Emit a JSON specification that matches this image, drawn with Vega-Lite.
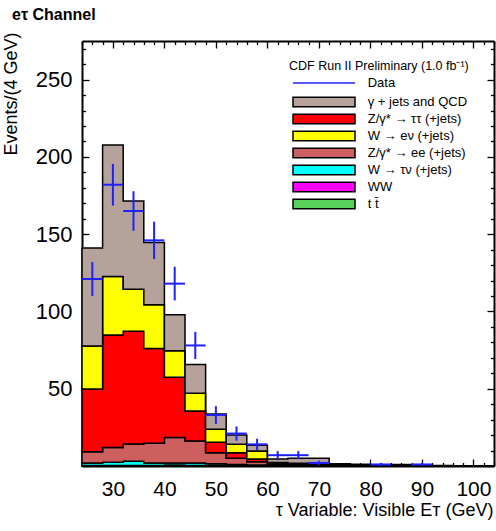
{
  "$schema": "https://vega.github.io/schema/vega-lite/v6.json",
  "width": 412,
  "height": 425,
  "autosize": "none",
  "padding": {"left": 82, "top": 41, "right": 2, "bottom": 65},
  "background": "white",
  "config": {
    "view": {"stroke": null},
    "font": "Liberation Sans",
    "axis": {"labelColor": "black", "titleColor": "black", "tickColor": "black", "domainColor": "black", "domainWidth": 2, "tickWidth": 1.3, "grid": false, "zindex": 1, "labelOverlap": false, "labelFlush": false, "labelFont": "Liberation Sans", "titleFont": "Liberation Sans"},
    "legend": {"labelFont": "Liberation Sans", "titleFont": "Liberation Sans", "labelColor": "black", "titleColor": "black"}
  },
  "title": {"text": "eτ Channel", "anchor": "start", "frame": "group", "dx": -70, "baseline": "alphabetic", "offset": -4, "fontSize": 16, "fontWeight": "bold", "font": "Liberation Sans", "color": "black"},
  "datasets": {
    "mc": [
      {"x": 24, "tt": 0.2, "ww": 0.1, "taunu": 1.7, "ee": 7.3, "tautau": 40.6, "enu": 27.8, "qcd": 63.3},
      {"x": 28, "tt": 0.2, "ww": 0.1, "taunu": 2.2, "ee": 9.4, "tautau": 72.9, "enu": 37.8, "qcd": 85.1},
      {"x": 32, "tt": 0.3, "ww": 0.1, "taunu": 2.6, "ee": 11.2, "tautau": 73.0, "enu": 27.2, "qcd": 57.0},
      {"x": 36, "tt": 0.3, "ww": 0.1, "taunu": 1.6, "ee": 12.7, "tautau": 61.3, "enu": 28.3, "qcd": 40.3},
      {"x": 40, "tt": 0.4, "ww": 0.2, "taunu": 1.4, "ee": 16.4, "tautau": 39.0, "enu": 17.1, "qcd": 23.3},
      {"x": 44, "tt": 0.3, "ww": 0.1, "taunu": 1.6, "ee": 14.2, "tautau": 19.4, "enu": 11.5, "qcd": 18.5},
      {"x": 48, "tt": 0.3, "ww": 0.1, "taunu": 1.1, "ee": 7.1, "tautau": 6.7, "enu": 8.4, "qcd": 10.0},
      {"x": 52, "tt": 0.2, "ww": 0.1, "taunu": 0.7, "ee": 4.0, "tautau": 3.6, "enu": 5.4, "qcd": 6.1},
      {"x": 56, "tt": 0.2, "ww": 0.1, "taunu": 0.4, "ee": 2.1, "tautau": 1.7, "enu": 5.2, "qcd": 3.7},
      {"x": 60, "tt": 0.3, "ww": 0.1, "taunu": 0.2, "ee": 0.8, "tautau": 0.4, "enu": 0.5, "qcd": 2.2},
      {"x": 64, "tt": 0.2, "ww": 0.1, "taunu": 0.2, "ee": 0.6, "tautau": 0.3, "enu": 0.4, "qcd": 3.2},
      {"x": 68, "tt": 0.2, "ww": 0.1, "taunu": 0.1, "ee": 0.4, "tautau": 0.2, "enu": 0.3, "qcd": 3.7},
      {"x": 72, "tt": 0.2, "ww": 0, "taunu": 0.1, "ee": 0.2, "tautau": 0.1, "enu": 0.2, "qcd": 0.7},
      {"x": 76, "tt": 0.1, "ww": 0, "taunu": 0, "ee": 0.2, "tautau": 0.1, "enu": 0.1, "qcd": 0.7},
      {"x": 80, "tt": 0.1, "ww": 0, "taunu": 0, "ee": 0.1, "tautau": 0, "enu": 0.1, "qcd": 0.5},
      {"x": 84, "tt": 0.1, "ww": 0, "taunu": 0, "ee": 0.1, "tautau": 0, "enu": 0.1, "qcd": 0.7},
      {"x": 88, "tt": 0, "ww": 0, "taunu": 0, "ee": 0.1, "tautau": 0, "enu": 0, "qcd": 0.3},
      {"x": 92, "tt": 0, "ww": 0, "taunu": 0, "ee": 0, "tautau": 0, "enu": 0, "qcd": 0.3},
      {"x": 96, "tt": 0, "ww": 0, "taunu": 0, "ee": 0, "tautau": 0, "enu": 0, "qcd": 0.2},
      {"x": 100, "tt": 0, "ww": 0, "taunu": 0, "ee": 0, "tautau": 0, "enu": 0, "qcd": 0.2},
      {"x": 104, "tt": 0, "ww": 0, "taunu": 0, "ee": 0, "tautau": 0, "enu": 0, "qcd": 0.2}
    ],
    "procs": [
      {"key": "tt", "process": "t t̄", "rank": 1},
      {"key": "ww", "process": "WW", "rank": 2},
      {"key": "taunu", "process": "W → τν (+jets)", "rank": 3},
      {"key": "ee", "process": "Z/γ* → ee (+jets)", "rank": 4},
      {"key": "tautau", "process": "Z/γ* → ττ (+jets)", "rank": 5},
      {"key": "enu", "process": "W → eν (+jets)", "rank": 6},
      {"key": "qcd", "process": "γ + jets and QCD", "rank": 7}
    ],
    "obs": [
      {"x0": 24, "x1": 28, "xc": 26, "events": 121, "lo": 110, "hi": 132},
      {"x0": 28, "x1": 32, "xc": 30, "events": 182, "lo": 168.5, "hi": 195.5},
      {"x0": 32, "x1": 36, "xc": 34, "events": 165, "lo": 152.2, "hi": 177.8},
      {"x0": 36, "x1": 40, "xc": 38, "events": 146, "lo": 133.9, "hi": 158.1},
      {"x0": 40, "x1": 44, "xc": 42, "events": 118, "lo": 107.1, "hi": 128.9},
      {"x0": 44, "x1": 48, "xc": 46, "events": 78, "lo": 69.2, "hi": 86.8},
      {"x0": 48, "x1": 52, "xc": 50, "events": 33, "lo": 27.3, "hi": 38.7},
      {"x0": 52, "x1": 56, "xc": 54, "events": 21, "lo": 16.4, "hi": 25.6},
      {"x0": 56, "x1": 60, "xc": 58, "events": 14, "lo": 10.3, "hi": 17.7},
      {"x0": 60, "x1": 64, "xc": 62, "events": 7, "lo": 4.4, "hi": 9.6},
      {"x0": 64, "x1": 68, "xc": 66, "events": 7, "lo": 4.4, "hi": 9.6},
      {"x0": 68, "x1": 72, "xc": 70, "events": 2, "lo": 0.6, "hi": 3.4},
      {"x0": 80, "x1": 84, "xc": 82, "events": 1, "lo": 0, "hi": 2},
      {"x0": 88, "x1": 92, "xc": 90, "events": 1, "lo": 0, "hi": 2}
    ]
  },
  "layer": [
    {
      "data": {"name": "mc"},
      "transform": [
        {"fold": ["tt", "ww", "taunu", "ee", "tautau", "enu", "qcd"], "as": ["key", "events"]},
        {"lookup": "key", "from": {"data": {"name": "procs"}, "key": "key", "fields": ["process", "rank"]}}
      ],
      "mark": {"type": "area", "interpolate": "step-after", "stroke": "black", "strokeWidth": 1.5, "opacity": 1},
      "encoding": {
        "x": {
          "field": "x", "type": "quantitative",
          "scale": {"domain": [24, 104], "nice": false, "zero": false},
          "axis": {
            "orient": "bottom",
            "values": [24,26,28,30,32,34,36,38,40,42,44,46,48,50,52,54,56,58,60,62,64,66,68,70,72,74,76,78,80,82,84,86,88,90,92,94,96,98,100,102,104],
            "labelExpr": "datum.value % 10 === 0 ? datum.label : ''",
            "tickSize": {"condition": {"test": "datum.value % 10 === 0", "value": -7}, "value": -3.5},
            "labelPadding": 19, "labelFontSize": 21,
            "title": "τ Variable: Visible Eᴛ (GeV)", "titleFontSize": 18, "titleFontWeight": "normal",
            "titleAnchor": "end", "titleAlign": "right", "titleBaseline": "alphabetic", "titleX": 411, "titleY": 49
          }
        },
        "y": {
          "field": "events", "type": "quantitative", "stack": "zero",
          "scale": {"domain": [0, 275], "nice": false},
          "axis": {
            "orient": "left",
            "values": [0,10,20,30,40,50,60,70,80,90,100,110,120,130,140,150,160,170,180,190,200,210,220,230,240,250,260,270],
            "labelExpr": "datum.value % 50 === 0 && datum.value > 0 ? datum.label : ''",
            "tickSize": {"condition": {"test": "datum.value % 50 === 0", "value": -7}, "value": -3.5},
            "labelPadding": 17, "labelFontSize": 22,
            "title": "Events/(4 GeV)", "titleFontSize": 18, "titleFontWeight": "normal",
            "titleAnchor": "end", "titleAlign": "right", "titleAngle": -90, "titleBaseline": "alphabetic", "titleX": -66, "titleY": -9
          }
        },
        "fill": {
          "field": "process", "type": "nominal",
          "scale": {
            "domain": ["γ + jets and QCD", "Z/γ* → ττ (+jets)", "W → eν (+jets)", "Z/γ* → ee (+jets)", "W → τν (+jets)", "WW", "t t̄"],
            "range": ["#b5a39b", "#ff0000", "#ffff00", "#cd5f5f", "#00ffff", "#ff00ff", "#59d059"]
          },
          "legend": {
            "title": null,
            "orient": "none", "legendX": 207, "legendY": 54.5,
            "padding": 0,
            "labelFontSize": 13, "labelLimit": 300,
            "symbolType": "M-6.2,-0.95H6.2V0.95H-6.2Z",
            "symbolSize": 100, "symbolStrokeWidth": 1.5, "symbolStrokeColor": "black",
            "symbolOffset": 28.5, "labelOffset": 37.2, "rowPadding": 0
          }
        },
        "order": {"field": "rank", "type": "quantitative"}
      }
    },
    {
      "data": {"name": "obs"},
      "mark": {"type": "rule", "strokeWidth": 2},
      "encoding": {
        "x": {
          "field": "xc", "type": "quantitative",
          "axis": {
            "orient": "top",
            "values": [24,26,28,30,32,34,36,38,40,42,44,46,48,50,52,54,56,58,60,62,64,66,68,70,72,74,76,78,80,82,84,86,88,90,92,94,96,98,100,102,104],
            "labels": false, "title": null,
            "tickSize": {"condition": {"test": "datum.value % 10 === 0", "value": -7}, "value": -3.5}
          }
        },
        "y": {
          "field": "lo", "type": "quantitative",
          "axis": {
            "orient": "right",
            "values": [0,10,20,30,40,50,60,70,80,90,100,110,120,130,140,150,160,170,180,190,200,210,220,230,240,250,260,270],
            "labels": false, "title": null,
            "tickSize": {"condition": {"test": "datum.value % 50 === 0", "value": -7}, "value": -3.5}
          }
        },
        "y2": {"field": "hi"},
        "stroke": {
          "datum": "Data", "type": "nominal",
          "scale": {"domain": ["Data"], "range": ["#2020ff"]},
          "legend": {
            "title": "CDF Run II Preliminary (1.0 fb⁻¹)",
            "orient": "none", "legendX": 207, "legendY": 19,
            "padding": 0, "titlePadding": 4, "titleFontSize": 12.5, "titleFontWeight": "normal",
            "labelFontSize": 13, "labelLimit": 300,
            "symbolType": "M-6.2,0H6.2",
            "symbolSize": 100, "symbolStrokeWidth": 1.5,
            "symbolOffset": 28.5, "labelOffset": 37.2
          }
        }
      }
    },
    {
      "data": {"name": "obs"},
      "mark": {"type": "rule", "strokeWidth": 2},
      "encoding": {
        "x": {"field": "x0", "type": "quantitative", "axis": null},
        "x2": {"field": "x1"},
        "y": {"field": "events", "type": "quantitative", "axis": null},
        "stroke": {"datum": "Data", "type": "nominal", "legend": null}
      }
    }
  ]
}
